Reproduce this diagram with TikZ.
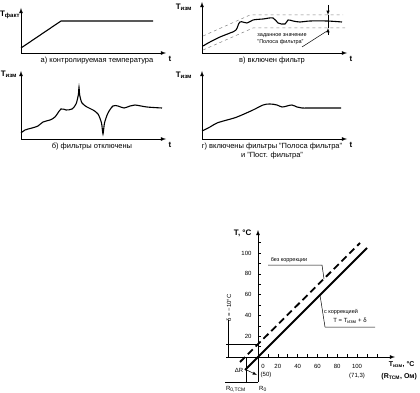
\documentclass[tikz,border=0pt]{standalone}
\usepackage{fontspec}
\setmainfont{Liberation Sans}
\newcommand{\Tlab}[1]{\textbf{Т}\textsubscript{\textbf{#1}}}
\tikzset{
  axis/.style={line width=0.8pt,-latex},
  curve/.style={line width=1.1pt},
  band/.style={gray,dashed,line width=0.5pt},
  thinline/.style={line width=0.5pt},
  caption/.style={font=\fontsize{7.5}{9}\selectfont,align=center},
  axlab/.style={font=\fontsize{8}{9}\selectfont},
  unitlab/.style={font=\fontsize{7}{8}\selectfont},
  note/.style={font=\fontsize{5.5}{6.5}\selectfont,align=left},
  numlab/.style={font=\fontsize{6}{7}\selectfont},
  corr/.style={line width=1.8pt},
}
\begin{document}
\begin{tikzpicture}[x=1pt,y=-1pt]
\useasboundingbox (0,0) rectangle (420,393);
% а) controlled temperature
\draw[axis] (21,53) -- (21,8);
\draw[axis] (21,53) -- (166,53);
\node[axlab] (ya) at (10,15) {\Tlab{факт}};
\node[axlab] (xa) at (170,59) {\textbf{t}};
\node[caption] (ca) at (97,61) {а) контролируемая температура};
\draw[curve] (21,48) -- (61,21) -- (153,21);
% в) filter on
\draw[axis] (202,53) -- (202,2);
\draw[axis] (202,53) -- (347,53);
\node[axlab] (yv) at (184,7) {\Tlab{изм}};
\node[axlab] (xv) at (351,59) {\textbf{t}};
\node[caption] (cv) at (272,61) {в) включен фильтр};
\draw[band] (203,36) -- (250,15) -- (343,15);
\draw[band] (203,50) -- (253,28) -- (345,28);
\draw[curve] plot[smooth,tension=0.6] coordinates {(203,46) (210,42) (220,37) (230,33) (236,30) (240,22) (247,23) (253,20) (263,19) (273,18) (278,23) (285,24) (288,20) (293,21) (300,22) (310,21) (327,21) (342,22)};
\draw[thinline] (328,15) -- (328,28);
\draw[thinline,-latex] (328,5) -- (328,15);
\draw[thinline,-latex] (328,35) -- (328,28);
\node[note] (nv) at (282,39) {заданное значение\\"Полоса фильтра"};
\draw[thinline] (302,47) -- (327,31);
% б) filters off
\draw[axis] (21,139) -- (21,71);
\draw[axis] (21,139) -- (166,139);
\node[axlab] (yb) at (9,74) {\Tlab{изм}};
\node[axlab] (xb) at (170,145) {\textbf{t}};
\node[caption] (cb) at (92,147) {б) фильтры отключены};
\draw[curve] plot[smooth,tension=0.5] coordinates {(21,133) (25,130) (32,128) (38,126) (43,122) (50,120) (55,117) (61,109) (66,110) (72,109) (76,104) (78.3,95) (79,87) (79.7,95) (82,103) (87,107) (93,110) (98,114) (101.5,123) (103,134) (104.5,123) (108,113) (113,106) (118,106) (124,108) (130,106) (135,105) (147,107) (162,108)};
% г) both filters on
\draw[axis] (202,139) -- (202,71);
\draw[axis] (202,139) -- (347,139);
\node[axlab] (yg) at (184,75) {\Tlab{изм}};
\node[axlab] (xg) at (351,145) {\textbf{t}};
\node[caption] (cg) at (272,151) {г) включены фильтры "Полоса фильтра"\\и "Пост. фильтра"};
\draw[curve] plot[smooth,tension=0.6] coordinates {(202,131) (210,127) (217,123) (227,120) (237,117) (253,110) (263,105) (270,104) (277,105) (282,107) (287,106) (292,105) (297,107) (302,108) (310,108) (341,108)};
% correction graph
\draw[axis] (226,357) -- (395,357);
\draw[axis] (258,382) -- (258,230);
\foreach \k in {1,...,12} \draw[thinline] (258+9.9*\k,357) -- (258+9.9*\k,354);
\foreach \k in {1,...,11} \draw[thinline] (258,357-10.4*\k) -- (261,357-10.4*\k);
\foreach \v in {20,40,...,100} {
  \node[numlab,anchor=east] at (255,357-1.04*\v) {\v};
  \node[numlab] at (258+0.99*\v,366) {\v};
}
\node[numlab] (x0) at (263,366) {0};
\node[numlab] (r50) at (266,375) {(50)};
\node[numlab] (r71) at (357,376) {(71,3)};
\node[axlab,anchor=east] (yt) at (255,233) {\textbf{Т, °С}};
\node[unitlab,anchor=east] (xt) at (418,365) {\Tlab{изм}\textbf{, °С}};
\node[unitlab,anchor=east] (xr) at (420.5,377) {\textbf{(R}\textsubscript{\textbf{ТСМ}}\textbf{, Ом)}};
\draw[corr] (245,370) -- (367,248);
\draw[corr,dash pattern=on 7pt off 4pt] (240,362) -- (360,243);
\draw[thinline] (226,344) -- (258,344);
\draw[thinline] (228,320) -- (228,357);
\node[numlab,rotate=90] (dl) at (229,308) {δ = −10°С};
\draw[thinline] (246,357) -- (246,382);
\draw[thinline] (225,382) -- (258,382);
\node[numlab] (r0t) at (236,389) {R\textsubscript{0,ТСМ}};
\node[numlab] (r0) at (263,389) {R\textsubscript{0}};
\node[numlab] (dr) at (239,370) {ΔR};
\draw[thinline,-latex] (dr.east) -- (257,375);
\node[note] (nb) at (289,260) {без коррекции};
\draw[thinline] (268,265) -- (322,265) -- (324,279);
\node[note] (nc) at (341,312) {с коррекцией};
\node[numlab] (fc) at (350,321) {Т = Т\textsubscript{изм} + δ};
\draw[thinline] (375,327) -- (325,327) -- (320,295);
\end{tikzpicture}
\end{document}
